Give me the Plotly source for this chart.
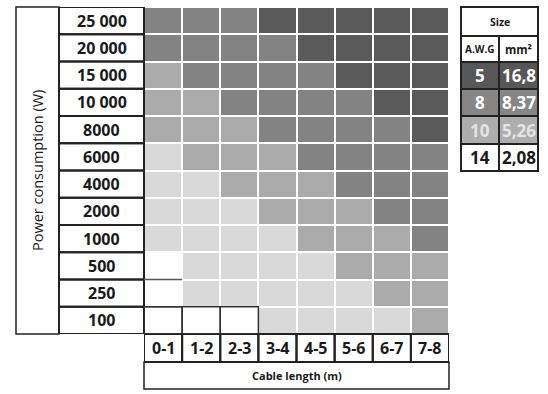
import plotly.graph_objects as go

# ---- data ----
powers = ["25 000", "20 000", "15 000", "10 000", "8000", "6000",
          "4000", "2000", "1000", "500", "250", "100"]
lengths = ["0-1", "1-2", "2-3", "3-4", "4-5", "5-6", "6-7", "7-8"]
# cable level per cell (0 = none, 1 = lightest ... 4 = thickest)
levels = [
    [3, 3, 3, 4, 4, 4, 4, 4],
    [3, 3, 3, 3, 4, 4, 4, 4],
    [2, 3, 3, 3, 3, 4, 4, 4],
    [2, 2, 3, 3, 3, 3, 4, 4],
    [2, 2, 2, 3, 3, 3, 3, 4],
    [1, 2, 2, 2, 3, 3, 3, 3],
    [1, 1, 2, 2, 2, 3, 3, 3],
    [1, 1, 1, 2, 2, 2, 3, 3],
    [1, 1, 1, 1, 2, 2, 2, 3],
    [0, 1, 1, 1, 1, 2, 2, 2],
    [0, 1, 1, 1, 1, 1, 2, 2],
    [0, 0, 0, 1, 1, 1, 1, 2],
]
awg = ["5", "8", "10", "14"]
mm2 = ["16,8", "8,37", "5,26", "2,08"]
legend_level = [4, 3, 2, 0]

level_colors = ["#ffffff", "#d9d9d9", "#ababab", "#838383", "#5a5a5a"]
legend_fill = {4: "#575757", 3: "#868686", 2: "#adadad", 0: "#ffffff"}
legend_text = {4: "#ffffff", 3: "#ffffff", 2: "#e4e4e4", 0: "#1a1a1a"}

W, H = 548, 394
L, R, T, B = 144, 99, 7, 60
PW, PH = W - L - R, H - T - B
LINE = "#222222"
TXT = "#1a1a1a"
FONT = "Open Sans"


def px(x):
    return (x - L) / PW


def py(y):
    return (H - B - y) / PH


def ann(**kw):
    d = dict(showarrow=False, xanchor="center", yanchor="middle")
    d.update(kw)
    return d


colorscale = [[i / 4, c] for i, c in enumerate(level_colors)]

fig = go.Figure(go.Heatmap(
    z=levels, x=lengths, y=powers, zmin=0, zmax=4,
    colorscale=colorscale, showscale=False, xgap=2, ygap=2,
    hoverinfo="skip",
))

shapes = []
annotations = []

# y title box
shapes.append(dict(type="rect", xref="paper", yref="paper",
                   x0=px(16), x1=px(59), y0=0, y1=1,
                   line=dict(color=LINE, width=1.5)))
annotations.append(ann(xref="paper", yref="paper", x=px(37.5), y=0.5,
                       text="Power consumption (W)", textangle=-90,
                       font=dict(family=FONT, size=14.5, color=TXT)))

# row label boxes
for i, p in enumerate(powers):
    shapes.append(dict(type="rect", xref="paper", yref="y",
                       x0=px(59), x1=0, y0=i - 0.5, y1=i + 0.5,
                       line=dict(color=LINE, width=2)))
    annotations.append(ann(xref="paper", yref="y", x=px(101.5), y=i,
                           text="<b>%s</b>" % p,
                           font=dict(family=FONT, size=16, color=TXT)))

# column label boxes
for j, c in enumerate(lengths):
    shapes.append(dict(type="rect", xref="x", yref="paper",
                       x0=j - 0.5, x1=j + 0.5, y0=py(362), y1=0,
                       line=dict(color=LINE, width=2)))
    annotations.append(ann(xref="x", yref="paper", x=j, y=py(348),
                           text="<b>%s</b>" % c,
                           font=dict(family=FONT, size=16, color=TXT)))

shapes.append(dict(type="rect", xref="paper", yref="paper",
                   x0=0, x1=1, y0=py(389), y1=py(362),
                   line=dict(color=LINE, width=1.5)))
annotations.append(ann(xref="paper", yref="paper", x=0.5, y=py(375.5),
                       text="<b>Cable length (m)</b>",
                       font=dict(family=FONT, size=11, color=TXT)))

# dark borders around empty (white) cells
nrows, ncols = len(levels), len(levels[0])
for i in range(nrows):
    for j in range(ncols):
        if levels[i][j] != 0:
            continue
        if i > 0 and levels[i - 1][j] == 0:
            shapes.append(dict(type="line", xref="x", yref="y",
                               x0=j - 0.5, x1=j + 0.5, y0=i - 0.5, y1=i - 0.5,
                               line=dict(color="#555", width=1.5)))
        if i == nrows - 1:
            shapes.append(dict(type="rect", xref="x", yref="y",
                               x0=j - 0.5, x1=j + 0.5, y0=i - 0.5, y1=i + 0.5,
                               line=dict(color="#333", width=1.5)))

# legend table
lx0, lxm, lx1 = px(461), px(499), px(538)
rows_y = [7, 36, 62, 89, 116, 144, 171]
shapes.append(dict(type="rect", xref="paper", yref="paper",
                   x0=lx0, x1=lx1, y0=py(rows_y[1]), y1=py(rows_y[0]),
                   line=dict(color=LINE, width=2), fillcolor="white"))
annotations.append(ann(xref="paper", yref="paper", x=(lx0 + lx1) / 2,
                       y=py((rows_y[0] + rows_y[1]) / 2), text="<b>Size</b>",
                       font=dict(family=FONT, size=10.5, color=TXT)))
for x0, x1, t, s in [(lx0, lxm, "A.W.G", 10), (lxm, lx1, "mm²", 11.5)]:
    shapes.append(dict(type="rect", xref="paper", yref="paper",
                       x0=x0, x1=x1, y0=py(rows_y[2]), y1=py(rows_y[1]),
                       line=dict(color=LINE, width=2), fillcolor="white"))
    annotations.append(ann(xref="paper", yref="paper", x=(x0 + x1) / 2,
                           y=py((rows_y[1] + rows_y[2]) / 2),
                           text="<b>%s</b>" % t,
                           font=dict(family=FONT, size=s, color=TXT)))
for r, (a, m, lv) in enumerate(zip(awg, mm2, legend_level)):
    ya, yb = rows_y[r + 2], rows_y[r + 3]
    for x0, x1, t in [(lx0, lxm, a), (lxm, lx1, m)]:
        shapes.append(dict(type="rect", xref="paper", yref="paper",
                           x0=x0, x1=x1, y0=py(yb), y1=py(ya),
                           line=dict(color=LINE, width=2),
                           fillcolor=legend_fill[lv]))
        annotations.append(ann(xref="paper", yref="paper", x=(x0 + x1) / 2,
                               y=py((ya + yb) / 2), text="<b>%s</b>" % t,
                               font=dict(family=FONT, size=17,
                                         color=legend_text[lv])))

fig.update_layout(
    width=W, height=H,
    margin=dict(l=L, r=R, t=T, b=B, pad=0),
    paper_bgcolor="white", plot_bgcolor="white",
    xaxis=dict(range=[-0.5, 7.5], showticklabels=False, showgrid=False,
               zeroline=False, ticks=""),
    yaxis=dict(range=[11.5, -0.5], showticklabels=False, showgrid=False,
               zeroline=False, ticks=""),
    shapes=shapes, annotations=annotations,
    showlegend=False,
)

fig.write_html("out.html")
